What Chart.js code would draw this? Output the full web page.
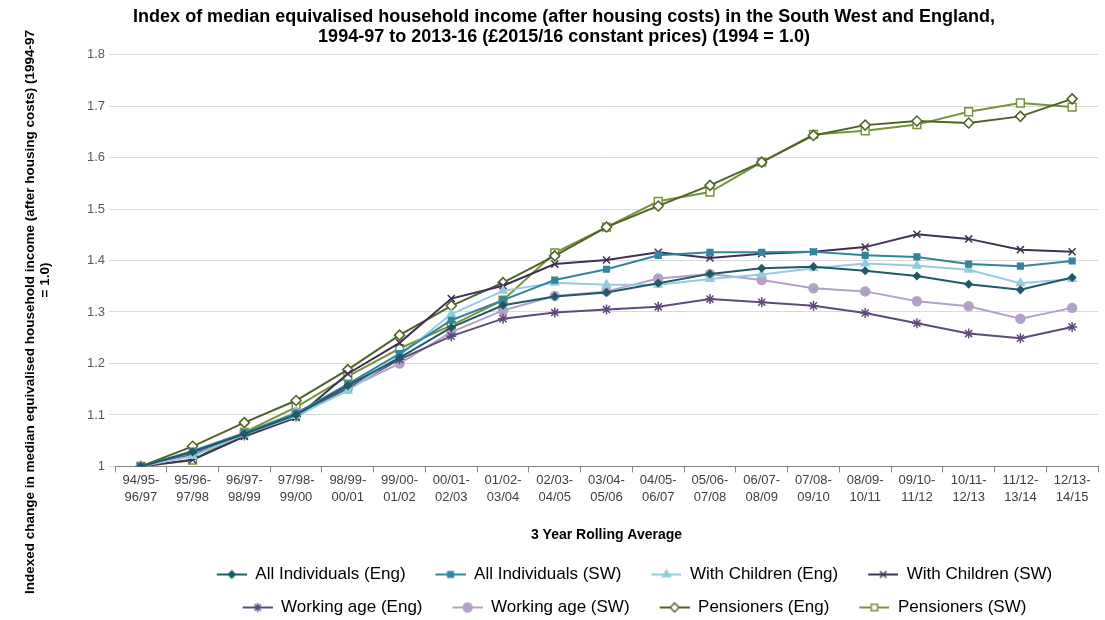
<!DOCTYPE html>
<html>
<head>
<meta charset="utf-8">
<script src="https://cdn.jsdelivr.net/npm/chart.js@4/dist/chart.umd.min.js"></script>
<style>
  body { margin: 0; background: #fff; }
  canvas { display: block; }
</style>
</head>
<body>
<canvas id="myChart" width="1105" height="620"></canvas>
<script>
// 3 year rolling periods
const periods = [
  ["94/95-", "96/97"], ["95/96-", "97/98"], ["96/97-", "98/99"], ["97/98-", "99/00"],
  ["98/99-", "00/01"], ["99/00-", "01/02"], ["00/01-", "02/03"], ["01/02-", "03/04"],
  ["02/03-", "04/05"], ["03/04-", "05/06"], ["04/05-", "06/07"], ["05/06-", "07/08"],
  ["06/07-", "08/09"], ["07/08-", "09/10"], ["08/09-", "10/11"], ["09/10-", "11/12"],
  ["10/11-", "12/13"], ["11/12-", "13/14"], ["12/13-", "14/15"]
];

const allIndEng    = [1, 1.028, 1.063, 1.100, 1.157, 1.211, 1.270, 1.313, 1.330, 1.338, 1.356, 1.374, 1.385, 1.388, 1.380, 1.370, 1.354, 1.343, 1.367];
const allIndSW     = [1, 1.030, 1.065, 1.103, 1.160, 1.219, 1.284, 1.323, 1.362, 1.383, 1.410, 1.416, 1.416, 1.417, 1.410, 1.407, 1.393, 1.389, 1.399];
const childrenEng  = [1, 1.020, 1.062, 1.098, 1.147, 1.215, 1.296, 1.341, 1.357, 1.353, 1.353, 1.364, 1.373, 1.385, 1.394, 1.390, 1.382, 1.356, 1.364];
const childrenSW   = [1, 1.013, 1.058, 1.095, 1.180, 1.240, 1.326, 1.351, 1.393, 1.401, 1.416, 1.405, 1.413, 1.417, 1.426, 1.451, 1.442, 1.421, 1.417];
const workingEng   = [1, 1.022, 1.060, 1.097, 1.152, 1.208, 1.253, 1.287, 1.299, 1.305, 1.310, 1.325, 1.319, 1.312, 1.298, 1.278, 1.258, 1.249, 1.271];
const workingSW    = [1, 1.025, 1.064, 1.105, 1.151, 1.200, 1.261, 1.303, 1.331, 1.340, 1.365, 1.374, 1.362, 1.346, 1.340, 1.321, 1.311, 1.287, 1.308];
const pensionEng   = [1, 1.039, 1.085, 1.128, 1.188, 1.255, 1.312, 1.357, 1.409, 1.465, 1.506, 1.546, 1.591, 1.643, 1.663, 1.671, 1.667, 1.680, 1.714];
const pensionSW    = [1, 1.012, 1.066, 1.115, 1.175, 1.229, 1.274, 1.323, 1.415, 1.465, 1.515, 1.533, 1.591, 1.645, 1.652, 1.664, 1.689, 1.706, 1.698];

const seriesNames = [
  "All Individuals (Eng)", "All Individuals (SW)", "With Children (Eng)", "With Children (SW)",
  "Working age (Eng)", "Working age (SW)", "Pensioners (Eng)", "Pensioners (SW)"
];

const FONT = '"Liberation Sans", Arial, sans-serif';

// style for each series: colour, marker, size, fill
const styles = [
  { color: "#215968", marker: "rectRot",  r: 3.5, fill: "#215968" },
  { color: "#31859C", marker: "rect",     r: 4,   fill: "#31859C" },
  { color: "#93CDDD", marker: "triangle", r: 4.5, fill: "#93CDDD" },
  { color: "#403152", marker: "crossRot", r: 5,   fill: "#403152" },
  { color: "#604A7B", marker: "star",     r: 5,   fill: "#604A7B" },
  { color: "#B3A2C7", marker: "circle",   r: 4.5, fill: "#B3A2C7" },
  { color: "#4F6228", marker: "rectRot",  r: 5,   fill: "#ffffff" },
  { color: "#77933C", marker: "rect",     r: 5.5, fill: "#ffffff" }
];

const seriesData = [allIndEng, allIndSW, childrenEng, childrenSW, workingEng, workingSW, pensionEng, pensionSW];

// little line+marker icon for the legend
function legendIcon(st) {
  const c = document.createElement("canvas");
  c.width = 44; c.height = 14;
  const g = c.getContext("2d");
  g.strokeStyle = st.color;
  g.lineWidth = 2;
  g.beginPath(); g.moveTo(14, 7); g.lineTo(44, 7); g.stroke();
  g.fillStyle = st.fill;
  g.lineWidth = 1.5;
  Chart.helpers.drawPoint(g, { pointStyle: st.marker, radius: Math.min(st.r, 4.5), rotation: 0, borderWidth: 1.5 }, 29, 7);
  return c;
}
const icons = styles.map(legendIcon);

const datasets = seriesNames.map((name, i) => ({
  label: name,
  data: seriesData[i],
  borderColor: styles[i].color,
  backgroundColor: styles[i].fill,
  borderWidth: 2,
  pointStyle: styles[i].marker,
  pointRadius: styles[i].r,
  pointBorderWidth: 1.5,
  pointBorderColor: styles[i].color,
  pointBackgroundColor: styles[i].fill,
  tension: 0
}));

const yTitle = [
  "Indexed change in median equivalised household income (after housing costs) (1994-97",
  "= 1.0)"
];

const yTitlePlugin = {
  id: "yTitle",
  afterDraw(chart) {
    const ctx = chart.ctx;
    const put = (txt, x, y) => {
      ctx.save();
      ctx.font = "bold 13.5px " + FONT;
      ctx.fillStyle = "#000";
      ctx.textAlign = "center";
      ctx.textBaseline = "middle";
      ctx.translate(x, y);
      ctx.rotate(-Math.PI / 2);
      ctx.fillText(txt, 0, 0);
      ctx.restore();
    };
    put(yTitle[0], 30, 312);
    put(yTitle[1], 45, 280);
  }
};

// nudge legend to where the original sits
const shiftLegend = {
  id: "shiftLegend",
  afterLayout(chart) {
    const l = chart.legend;
    if (!l) return;
    l.left += 21; l.right += 21;
    l.top += 6; l.bottom += 6;
  }
};

new Chart(document.getElementById("myChart"), {
  type: "line",
  data: { labels: periods, datasets: datasets },
  plugins: [yTitlePlugin, shiftLegend],
  options: {
    responsive: false,
    animation: false,
    layout: { padding: { left: 23, right: 0, top: 0, bottom: 0 } },
    plugins: {
      tooltip: { enabled: false },
      title: {
        display: true,
        text: [
          "Index of median equivalised household income (after housing costs) in the South West and England,",
          "1994-97 to 2013-16 (£2015/16 constant prices) (1994 = 1.0)"
        ],
        color: "#000",
        font: { family: FONT, size: 18, weight: "bold", lineHeight: 1.1 },
        padding: { top: 7, bottom: 8 }
      },
      legend: {
        position: "bottom",
        fullSize: false,
        labels: {
          usePointStyle: true,
          pointStyleWidth: 44,
          padding: 16,
          color: "#000",
          font: { family: FONT, size: 17 },
          generateLabels(chart) {
            const items = Chart.defaults.plugins.legend.labels.generateLabels(chart);
            items.forEach(it => { it.pointStyle = icons[it.datasetIndex]; });
            return items;
          }
        }
      }
    },
    scales: {
      x: {
        offset: true,
        grid: { offset: true, drawOnChartArea: false, drawTicks: true, tickLength: 6, color: "#868686" },
        border: { display: true, color: "#868686" },
        ticks: {
          autoSkip: false, maxRotation: 0, minRotation: 0, padding: 0,
          color: "#404040", font: { family: FONT, size: 13, lineHeight: 1.3 }
        },
        title: {
          display: true,
          text: "3 Year Rolling Average",
          color: "#000",
          font: { family: FONT, size: 14, weight: "bold" },
          padding: { top: 21, bottom: 0 }
        }
      },
      y: {
        min: 1, max: 1.8,
        afterFit(scale) { scale.width = 92; },
        grid: { color: "#D9D9D9", lineWidth: 1, tickLength: 6 },
        border: { display: false },
        ticks: {
          stepSize: 0.1, padding: 4,
          color: "#595959", font: { family: FONT, size: 13 },
          callback: v => String(Number(v.toFixed(1)))
        }
      }
    }
  }
});
</script>
</body>
</html>
